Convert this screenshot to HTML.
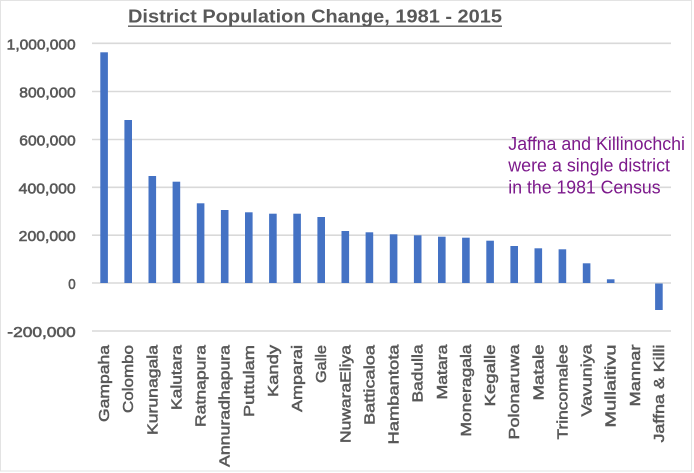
<!DOCTYPE html>
<html><head><meta charset="utf-8"><style>
html,body{margin:0;padding:0;background:#fff;}
svg{display:block;}
</style></head><body>
<svg width="694" height="473" viewBox="0 0 694 473" xmlns="http://www.w3.org/2000/svg">
<rect x="0.5" y="0.5" width="691" height="470.5" fill="#fff" stroke="#e3e3e3" stroke-width="1"/>
<!-- title -->
<text x="128" y="22.7" font-family="Liberation Sans, sans-serif" font-weight="bold" font-size="18" fill="#595959" textLength="374" lengthAdjust="spacingAndGlyphs">District Population Change, 1981 - 2015</text>
<line x1="128" y1="26.2" x2="502" y2="26.2" stroke="#595959" stroke-width="1.3"/>
<!-- gridlines -->
<g stroke="#d9d9d9" stroke-width="1.6">
<line x1="92" y1="43.3" x2="671" y2="43.3"/>
<line x1="92" y1="91.5" x2="671" y2="91.5"/>
<line x1="92" y1="139.5" x2="671" y2="139.5"/>
<line x1="92" y1="187.3" x2="671" y2="187.3"/>
<line x1="92" y1="235.2" x2="671" y2="235.2"/>
<line x1="92" y1="283" x2="671" y2="283"/>
<line x1="92" y1="331" x2="671" y2="331"/>
</g>
<!-- y labels -->
<g font-family="Liberation Sans, sans-serif" font-size="15" fill="#595959" stroke="#595959" stroke-width="0.6" text-anchor="end">
<text x="75.7" y="49.3" textLength="69" lengthAdjust="spacingAndGlyphs">1,000,000</text>
<text x="75.7" y="97.5" textLength="56.4" lengthAdjust="spacingAndGlyphs">800,000</text>
<text x="75.7" y="145.5" textLength="56.4" lengthAdjust="spacingAndGlyphs">600,000</text>
<text x="75.7" y="193.3" textLength="57" lengthAdjust="spacingAndGlyphs">400,000</text>
<text x="75.7" y="241.2" textLength="57" lengthAdjust="spacingAndGlyphs">200,000</text>
<text x="75.7" y="289" textLength="7.4" lengthAdjust="spacingAndGlyphs">0</text>
<text x="75.7" y="337" textLength="68.4" lengthAdjust="spacingAndGlyphs">-200,000</text>
</g>
<!-- bars -->
<g fill="#4472C4">
<rect x="100.3" y="52.3" width="7.6" height="230.7"/>
<rect x="124.4" y="120" width="7.6" height="163"/>
<rect x="148.5" y="176" width="7.6" height="107"/>
<rect x="172.6" y="181.7" width="7.6" height="101.3"/>
<rect x="196.8" y="203.3" width="7.6" height="79.7"/>
<rect x="220.9" y="210" width="7.6" height="73"/>
<rect x="245" y="212.3" width="7.6" height="70.7"/>
<rect x="269.1" y="213.7" width="7.6" height="69.3"/>
<rect x="293.3" y="213.7" width="7.6" height="69.3"/>
<rect x="317.4" y="217" width="7.6" height="66"/>
<rect x="341.5" y="231" width="7.6" height="52"/>
<rect x="365.6" y="232.3" width="7.6" height="50.7"/>
<rect x="389.8" y="234.3" width="7.6" height="48.7"/>
<rect x="413.9" y="235.3" width="7.6" height="47.7"/>
<rect x="438" y="236.7" width="7.6" height="46.3"/>
<rect x="462.1" y="237.7" width="7.6" height="45.3"/>
<rect x="486.3" y="240.7" width="7.6" height="42.3"/>
<rect x="510.4" y="246" width="7.6" height="37"/>
<rect x="534.5" y="248.3" width="7.6" height="34.7"/>
<rect x="558.6" y="249.3" width="7.6" height="33.7"/>
<rect x="582.8" y="263.3" width="7.6" height="19.7"/>
<rect x="606.9" y="279.3" width="7.6" height="3.7"/>
<rect x="655.1" y="283.5" width="7.6" height="26.5"/>
</g>
<!-- annotation -->
<g font-family="Liberation Sans, sans-serif" font-size="18" fill="#7D1A8C">
<text x="508.3" y="150" textLength="176.7" lengthAdjust="spacingAndGlyphs">Jaffna and Killinochchi</text>
<text x="508.3" y="171.7" textLength="161.7" lengthAdjust="spacingAndGlyphs">were a single district</text>
<text x="508.3" y="193.3" textLength="152.3" lengthAdjust="spacingAndGlyphs">in the 1981 Census</text>
</g>
<!-- x labels -->
<g font-family="Liberation Sans, sans-serif" font-size="15" fill="#595959" stroke="#595959" stroke-width="0.5" text-anchor="end">
<text transform="translate(109.1,345) rotate(-90)" textLength="77" lengthAdjust="spacingAndGlyphs">Gampaha</text>
<text transform="translate(133.2,345) rotate(-90)" textLength="68" lengthAdjust="spacingAndGlyphs">Colombo</text>
<text transform="translate(157.3,345) rotate(-90)" textLength="90" lengthAdjust="spacingAndGlyphs">Kurunagala</text>
<text transform="translate(181.4,345) rotate(-90)" textLength="65" lengthAdjust="spacingAndGlyphs">Kalutara</text>
<text transform="translate(205.6,345) rotate(-90)" textLength="82" lengthAdjust="spacingAndGlyphs">Ratnapura</text>
<text transform="translate(229.7,345) rotate(-90)" textLength="122" lengthAdjust="spacingAndGlyphs">Annuradhapura</text>
<text transform="translate(253.8,345) rotate(-90)" textLength="72" lengthAdjust="spacingAndGlyphs">Puttulam</text>
<text transform="translate(277.9,345) rotate(-90)" textLength="52" lengthAdjust="spacingAndGlyphs">Kandy</text>
<text transform="translate(302.1,345) rotate(-90)" textLength="67" lengthAdjust="spacingAndGlyphs">Amparai</text>
<text transform="translate(326.2,345) rotate(-90)" textLength="38" lengthAdjust="spacingAndGlyphs">Galle</text>
<text transform="translate(350.3,345) rotate(-90)" textLength="98" lengthAdjust="spacingAndGlyphs">NuwaraEliya</text>
<text transform="translate(374.4,345) rotate(-90)" textLength="80" lengthAdjust="spacingAndGlyphs">Batticaloa</text>
<text transform="translate(398.6,344.5) rotate(-90)" textLength="100" lengthAdjust="spacingAndGlyphs">Hambantota</text>
<text transform="translate(422.7,344.5) rotate(-90)" textLength="58" lengthAdjust="spacingAndGlyphs">Badulla</text>
<text transform="translate(446.8,344.5) rotate(-90)" textLength="55" lengthAdjust="spacingAndGlyphs">Matara</text>
<text transform="translate(470.9,344.5) rotate(-90)" textLength="92" lengthAdjust="spacingAndGlyphs">Moneragala</text>
<text transform="translate(495.1,344.5) rotate(-90)" textLength="62" lengthAdjust="spacingAndGlyphs">Kegalle</text>
<text transform="translate(519.2,344.5) rotate(-90)" textLength="95" lengthAdjust="spacingAndGlyphs">Polonaruwa</text>
<text transform="translate(543.3,344.5) rotate(-90)" textLength="56" lengthAdjust="spacingAndGlyphs">Matale</text>
<text transform="translate(567.4,344.5) rotate(-90)" textLength="95" lengthAdjust="spacingAndGlyphs">Trincomalee</text>
<text transform="translate(591.6,344.5) rotate(-90)" textLength="72" lengthAdjust="spacingAndGlyphs">Vavuniya</text>
<text transform="translate(615.7,344.5) rotate(-90)" textLength="83" lengthAdjust="spacingAndGlyphs">Mullaitivu</text>
<text transform="translate(639.8,344.5) rotate(-90)" textLength="62" lengthAdjust="spacingAndGlyphs">Mannar</text>
<text transform="translate(663.9,344.5) rotate(-90)" textLength="98" lengthAdjust="spacingAndGlyphs">Jaffna &amp; Killi</text>
</g>
</svg>
</body></html>
